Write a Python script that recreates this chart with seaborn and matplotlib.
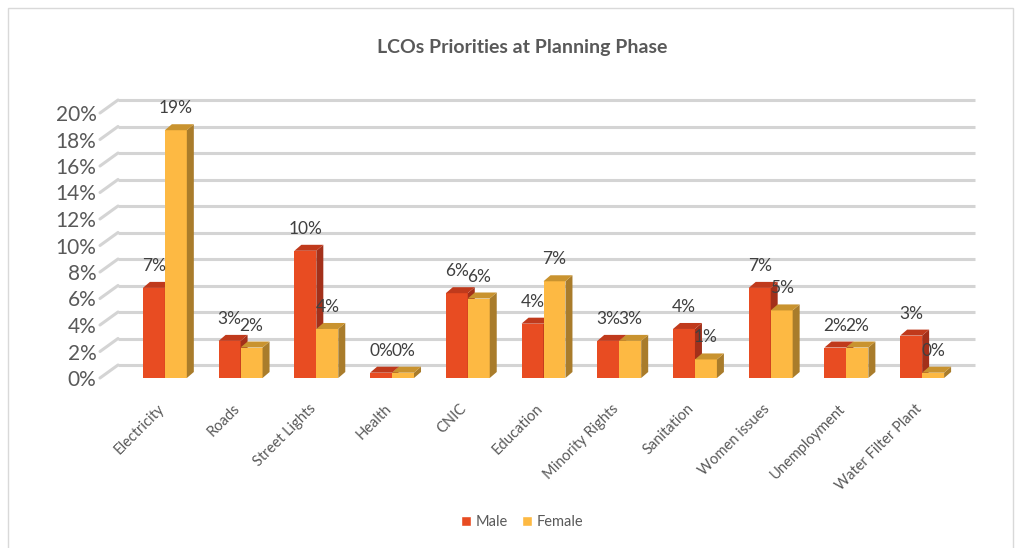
import numpy as np
import pandas as pd
import seaborn as sns
import matplotlib.pyplot as plt
from matplotlib.patches import Polygon, Rectangle
from matplotlib.lines import Line2D
from matplotlib import transforms

categories = ["Electricity", "Roads", "Street Lights", "Health", "CNIC", "Education",
              "Minority Rights", "Sanitation", "Women issues", "Unemployment", "Water Filter Plant"]
male = [6.8, 2.8, 9.6, 0.4, 6.4, 4.1, 2.8, 3.7, 6.8, 2.3, 3.2]
female = [18.7, 2.3, 3.7, 0.4, 6.0, 7.3, 2.8, 1.4, 5.1, 2.3, 0.4]
series = ["Male", "Female"]
y_ticks = list(range(0, 21, 2))
title = "LCOs Priorities at Planning Phase"

colors = {"Male": "#E84C22", "Female": "#FDB943"}
side_colors = {"Male": "#A3301A", "Female": "#A97C2B"}
top_colors = {"Male": "#C03A1C", "Female": "#C9932F"}

sns.set_theme(style="white")
plt.rcParams["font.family"] = ["Lato", "DejaVu Sans"]

df = pd.DataFrame({
    "cat": categories * 2,
    "val": male + female,
    "sex": ["Male"] * len(categories) + ["Female"] * len(categories),
})

W, H = 1021, 548
fig = plt.figure(figsize=(W / 100, H / 100), dpi=100)
fig.patch.set_facecolor("white")
ax = fig.add_axes([127 / W, (H - 378) / H, 833 / W, (378 - 113) / H])

sns.barplot(data=df, x="cat", y="val", hue="sex", hue_order=series, palette=colors,
            width=0.58, saturation=1, ax=ax, legend=False, zorder=2, linewidth=0,
            edgecolor="none")

ax.set_ylim(0, 20)
ax.set_xlim(-0.5, len(categories) - 0.5)
ax.set_yticks(y_ticks)
ax.set_yticklabels([f"{t}%" for t in y_ticks], fontsize=15, color="#595959")
ax.tick_params(axis="y", length=0, pad=22)
ax.tick_params(axis="x", length=0, pad=17)
ax.set_xticks(range(len(categories)))
ax.set_xticklabels(categories, rotation=45, ha="right", va="top", fontsize=10.5,
                   color="#595959", rotation_mode="anchor")
shift = transforms.ScaledTranslation(-8 / 100, 0, fig.dpi_scale_trans)
for lab in ax.get_xticklabels():
    lab.set_transform(lab.get_transform() + shift)
ax.set_xlabel("")
ax.set_ylabel("")
for s in ax.spines.values():
    s.set_visible(False)
ax.grid(False)
ax.patch.set_alpha(0)

# back-wall gridlines (offset up, like the 3D chart)
back = transforms.offset_copy(ax.get_yaxis_transform(), fig=fig, x=0, y=13, units="dots")
for t in y_ticks:
    ax.plot([(118 - 127) / 833, (975 - 127) / 833], [t, t], transform=back,
            color="#d4d4d4", lw=2.2, zorder=0.5, clip_on=False, solid_capstyle="butt")

fig.canvas.draw()
inv = fig.transFigure.inverted()
# slanted depth lines on the left wall
for t in y_ticks:
    y_disp = ax.transData.transform((0, t))[1]
    p0 = inv.transform((100, y_disp))
    p1 = inv.transform((118, y_disp + 13))
    fig.add_artist(Line2D([p0[0], p1[0]], [p0[1], p1[1]], transform=fig.transFigure,
                          color="#d4d4d4", lw=2.2, zorder=0.5))

# 3D faces and data labels
dx, dy = 7, 6
for cont, name, vals, z in zip(ax.containers, series, [male, female], [2, 3]):
    for patch, v in zip(cont.patches, vals):
        patch.set_zorder(z)
        x0, y0 = ax.transData.transform((patch.get_x(), 0))
        x1, y1 = ax.transData.transform((patch.get_x() + patch.get_width(), patch.get_height()))
        side = [(x1, y0), (x1 + dx, y0 + dy), (x1 + dx, y1 + dy), (x1, y1)]
        top = [(x0, y1), (x1, y1), (x1 + dx, y1 + dy), (x0 + dx, y1 + dy)]
        for pts, c in [(side, side_colors[name]), (top, top_colors[name])]:
            ax.add_patch(Polygon([ax.transData.inverted().transform(p) for p in pts],
                                 closed=True, facecolor=c, edgecolor="none", zorder=z,
                                 clip_on=False))
        ax.annotate(f"{v:.0f}%", (patch.get_x() + patch.get_width() / 2, patch.get_height()),
                    xytext=(0, 22), textcoords="offset pixels", ha="center", va="center",
                    fontsize=12.5, color="#404040", zorder=5, annotation_clip=False)

fig.text(522 / W, 1 - 47 / H, title, ha="center", va="center", fontsize=14,
         fontweight="bold", color="#595959")

handles = [Rectangle((0, 0), 1, 1, facecolor=colors[s]) for s in series]
fig.legend(handles, series, loc="center", bbox_to_anchor=(522 / W, 1 - 522 / H), ncol=2,
           frameon=False, fontsize=10.5, handlelength=0.7, handleheight=0.7,
           handletextpad=0.3, columnspacing=1.0, labelcolor="#595959")

fig.add_artist(Rectangle((8 / W, -0.01), (1013 - 8) / W, 1 - 8 / H + 0.01,
                         transform=fig.transFigure, fill=False, edgecolor="#d9d9d9", lw=1))

fig.savefig("out.png", dpi=100)
